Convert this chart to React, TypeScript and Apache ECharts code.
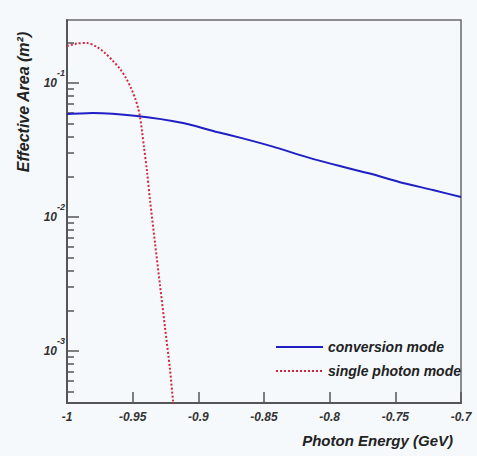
import React, { useEffect, useRef } from "react";
import * as echarts from "echarts";

const conversionEnergy = [-1, -0.9802, -0.9467, -0.9117, -0.8858, -0.8683, -0.8432, -0.8173, -0.7922, -0.7694, -0.7465, -0.7214, -0.7];
const conversionArea = [0.0587, 0.0597, 0.0567, 0.0503, 0.0431, 0.0391, 0.0335, 0.028, 0.024, 0.0211, 0.0182, 0.0159, 0.0141];

const singleEnergy = [-1, -0.9924, -0.9848, -0.9772, -0.9711, -0.965, -0.9596, -0.9551, -0.9513, -0.9482, -0.9459, -0.9444, -0.9429, -0.9414, -0.9391, -0.9368, -0.933, -0.9292, -0.9254, -0.9216, -0.9193, -0.917];
const singleArea = [0.1888, 0.1971, 0.1988, 0.1856, 0.1675, 0.1459, 0.1272, 0.109, 0.0918, 0.0773, 0.0651, 0.0558, 0.0438, 0.0333, 0.022, 0.0134, 0.0064, 0.00311, 0.00151, 0.000734, 0.000431, 0.00028];

const majorTicks = [0.001, 0.01, 0.1];
const minorTicks = [0.0005, 0.0006, 0.0007, 0.0008, 0.0009, 0.002, 0.003, 0.004, 0.005, 0.006, 0.007, 0.008, 0.009, 0.02, 0.03, 0.04, 0.05, 0.06, 0.07, 0.08, 0.09, 0.2];

const seriesNames = ["conversion mode", "single photon mode"];
const xTitle = "Photon Energy (GeV)";
const yTitle = "Effective Area (m²)";

const FONT = "Liberation Sans, Arial, sans-serif";

export default function App() {
  const ref = useRef<HTMLDivElement>(null);
  useEffect(() => {
    if (!ref.current) return;
    const chart = echarts.init(ref.current, undefined, { renderer: "svg" });
    const yMin = 0.00041;
    const yMax = 0.295;
    chart.setOption({
      animation: false,
      backgroundColor: "#f5f9fc",
      textStyle: { fontFamily: FONT },
      grid: {
        left: 67,
        top: 20,
        right: 16,
        bottom: 53,
        show: true,
        borderColor: "#6a6a6a",
        borderWidth: 1.5,
        backgroundColor: "transparent",
        outerBoundsMode: "none",
      },
      legend: {
        orient: "vertical",
        left: 275,
        top: 340,
        itemWidth: 47,
        itemHeight: 14,
        itemGap: 10,
        padding: 0,
        itemStyle: { opacity: 0 },
        textStyle: { fontFamily: FONT, fontStyle: "italic", fontWeight: "bold", fontSize: 14, color: "#222" },
        data: seriesNames,
      },
      xAxis: {
        type: "value",
        min: -1,
        max: -0.7,
        interval: 0.05,
        splitLine: { show: false },
        axisLine: { show: true, onZero: false, lineStyle: { color: "#555", width: 2 } },
        axisTick: { show: true, inside: true, length: 11, lineStyle: { color: "#555", width: 1.5 } },
        axisLabel: {
          margin: 8,
          fontFamily: FONT,
          fontStyle: "italic",
          fontWeight: "bold",
          fontSize: 12,
          color: "#333",
          formatter: (v: number) => String(Math.round(v * 100) / 100),
        },
      },
      yAxis: [
        {
          type: "log",
          min: yMin,
          max: yMax,
          splitLine: { show: false },
          axisLine: { show: true, lineStyle: { color: "#555", width: 2 } },
          axisTick: { show: true, inside: true, length: 12, customValues: majorTicks, lineStyle: { color: "#555", width: 1.5 } },
          minorTick: { show: false },
          axisLabel: {
            margin: 2,
            customValues: majorTicks,
            formatter: (v: number) => `{b|10}{s|${Math.round(Math.log10(v))}}`,
            rich: {
              b: { fontFamily: FONT, fontStyle: "italic", fontWeight: "bold", fontSize: 12, color: "#333" },
              s: { fontFamily: FONT, fontStyle: "italic", fontWeight: "bold", fontSize: 9, color: "#333", padding: [0, 0, 20, 0] },
            },
          },
        },
        {
          type: "log",
          position: "left",
          offset: 0,
          min: yMin,
          max: yMax,
          splitLine: { show: false },
          axisLine: { show: false },
          axisTick: { show: true, inside: true, length: 7, customValues: minorTicks, lineStyle: { color: "#555", width: 1.5 } },
          axisLabel: { show: false },
        },
      ],
      graphic: [
        {
          type: "text",
          x: 23,
          y: 102,
          rotation: Math.PI / 2,
          style: {
            text: yTitle,
            fontFamily: FONT,
            fontStyle: "italic",
            fontWeight: "bold",
            fontSize: 16,
            fill: "#222",
            align: "center",
            verticalAlign: "middle",
          },
        },
        {
          type: "text",
          x: 453,
          y: 440,
          style: {
            text: xTitle,
            fontFamily: FONT,
            fontStyle: "italic",
            fontWeight: "bold",
            fontSize: 15,
            fill: "#222",
            align: "right",
            verticalAlign: "middle",
          },
        },
      ],
      series: [
        {
          name: seriesNames[0],
          type: "line",
          yAxisIndex: 0,
          showSymbol: false,
          symbol: "none",
          smooth: 0.2,
          clip: true,
          lineStyle: { color: "#1f1fc4", width: 2 },
          itemStyle: { color: "#1f1fc4" },
          data: conversionEnergy.map((e, i) => [e, conversionArea[i]]),
        },
        {
          name: seriesNames[1],
          type: "line",
          yAxisIndex: 0,
          showSymbol: false,
          symbol: "none",
          smooth: 0.3,
          clip: true,
          lineStyle: { color: "#d2283f", width: 2, type: [2, 2] },
          itemStyle: { color: "#d2283f" },
          data: singleEnergy.map((e, i) => [e, singleArea[i]]),
        },
      ],
    });
    return () => chart.dispose();
  }, []);
  return <div ref={ref} style={{ position: "fixed", left: 0, top: 0, width: 477, height: 456 }} />;
}
